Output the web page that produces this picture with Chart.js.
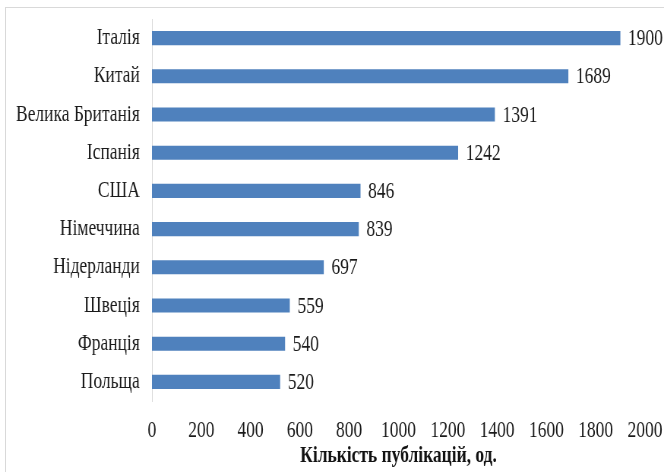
<!DOCTYPE html>
<html lang="uk">
<head>
<meta charset="utf-8">
<title>Кількість публікацій</title>
<script src="https://cdn.jsdelivr.net/npm/chart.js@4/dist/chart.umd.min.js"></script>
<style>
    html, body { margin: 0; padding: 0; background: #fff; overflow: hidden; }
    #wrap { position: relative; width: 664px; height: 472px; }
    #frame { position: absolute; left: 5px; top: 7px; width: 700px; height: 500px; border: 1px solid #d9d9d9; pointer-events: none; }
    /* canvas is drawn wider and squeezed to 664px, giving the narrow serif look */
    #chart { position: absolute; left: 0; top: 0; }
</style>
</head>
<body>
<div id="wrap">
    <canvas id="chart" width="874" height="472" style="width:664px;height:472px"></canvas>
    <div id="frame"></div>
</div>
<script>
// DATA
const countries = ["Італія", "Китай", "Велика Британія", "Іспанія", "США", "Німеччина", "Нідерланди", "Швеція", "Франція", "Польща"];
const publications = [1900, 1689, 1391, 1242, 846, 839, 697, 559, 540, 520];
const xTicks = [0, 200, 400, 600, 800, 1000, 1200, 1400, 1600, 1800, 2000];
const axisTitle = "Кількість публікацій, од.";

const FONT = "'Liberation Serif', 'Times New Roman', serif";
const TEXT = "#1a1a1a";

// value labels at the end of each bar
const barValues = {
    id: "barValues",
    afterDatasetsDraw(chart) {
        const ctx = chart.ctx;
        const meta = chart.getDatasetMeta(0);
        ctx.save();
        ctx.font = "23px " + FONT;
        ctx.fillStyle = TEXT;
        ctx.textAlign = "left";
        ctx.textBaseline = "middle";
        meta.data.forEach((bar, i) => {
            ctx.fillText(String(publications[i]), bar.x + 10, bar.y + 1);
        });
        ctx.restore();
    }
};

// keep label overhang from pushing the plot area around
function noOverhang(s) {
    s.paddingTop = 0;
    s.paddingBottom = 0;
    s.paddingLeft = 0;
    s.paddingRight = 0;
}

new Chart(document.getElementById("chart"), {
    type: "bar",
    data: {
        labels: countries,
        datasets: [{
            data: publications,
            backgroundColor: "#4f81bd",
            borderWidth: 0,
            barPercentage: 0.37,
            categoryPercentage: 1
        }]
    },
    options: {
        indexAxis: "y",
        responsive: false,
        animation: false,
        layout: { padding: { top: 19, right: 25, bottom: 0, left: 0 } },
        plugins: { legend: { display: false }, tooltip: { enabled: false } },
        scales: {
            x: {
                min: 0,
                max: 2000,
                afterBuildTicks: s => { s.ticks = xTicks.map(v => ({ value: v })); },
                afterFit: s => { s.height = 71; noOverhang(s); },
                grid: { display: false, drawTicks: false },
                border: { display: false },
                ticks: {
                    padding: 16,
                    color: TEXT,
                    font: { family: FONT, size: 23 },
                    callback: v => String(v)
                },
                title: {
                    display: true,
                    text: axisTitle,
                    color: "#111",
                    padding: { top: 0, bottom: 2 },
                    font: { family: FONT, size: 23, weight: "bold" }
                }
            },
            y: {
                afterFit: s => { s.width = 200; noOverhang(s); },
                grid: { display: false, drawTicks: false },
                border: { display: true, color: "#d9d9d9", width: 1 },
                ticks: { padding: 16, color: TEXT, font: { family: FONT, size: 23 } }
            }
        }
    },
    plugins: [barValues]
});
</script>
</body>
</html>
